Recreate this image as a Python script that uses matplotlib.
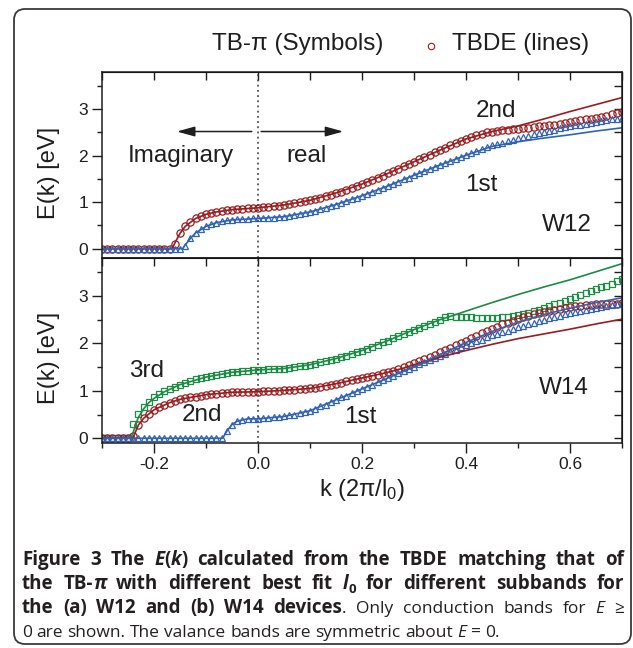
import numpy as np
import matplotlib
matplotlib.use("Agg")
import matplotlib.pyplot as plt
from matplotlib.patches import FancyBboxPatch
from matplotlib.lines import Line2D

plt.rcParams['font.family'] = ['Liberation Sans', 'DejaVu Sans']
plt.rcParams['mathtext.fontset'] = 'custom'
plt.rcParams['mathtext.rm'] = 'Liberation Sans'
plt.rcParams['mathtext.it'] = 'Liberation Sans:italic'

RED = '#991c1f'
BLUE = '#2f63b8'
GREEN = '#1b8c44'
INK = '#1e1e1e'

# ----- data: TB-pi symbols, sampled every 0.01 in k -----
k_sym = np.linspace(-0.3, 0.7, 101)

w12_2nd_sym = [0, 0, 0, 0, 0, 0, 0, 0, 0, 0, 0, 0, 0, 0,
               0.10, 0.33, 0.48, 0.58, 0.65, 0.70, 0.74, 0.77, 0.79, 0.81,
               0.83, 0.84, 0.85, 0.86, 0.87, 0.87, 0.88, 0.89, 0.90, 0.91,
               0.92, 0.94, 0.96, 0.98, 1.00, 1.02, 1.04, 1.07, 1.10, 1.13,
               1.16, 1.20, 1.23, 1.27, 1.31, 1.35, 1.39, 1.43, 1.48, 1.52,
               1.57, 1.62, 1.67, 1.72, 1.77, 1.82, 1.87, 1.92, 1.97, 2.02,
               2.07, 2.12, 2.17, 2.22, 2.27, 2.32, 2.36, 2.40, 2.44, 2.47,
               2.50, 2.52, 2.54, 2.55, 2.56, 2.57, 2.58, 2.59, 2.60, 2.61,
               2.63, 2.64, 2.66, 2.67, 2.69, 2.71, 2.73, 2.75, 2.76, 2.78,
               2.80, 2.82, 2.84, 2.86, 2.89, 2.91, 2.94]

w12_1st_sym = [0, 0, 0, 0, 0, 0, 0, 0, 0, 0, 0, 0, 0, 0, 0, 0,
               0.05, 0.22, 0.34, 0.42, 0.48, 0.53, 0.56, 0.59, 0.61, 0.62,
               0.63, 0.64, 0.64, 0.65, 0.65, 0.66, 0.66, 0.67, 0.68, 0.69,
               0.71, 0.73, 0.75, 0.77, 0.79, 0.82, 0.85, 0.88, 0.91, 0.95,
               0.98, 1.02, 1.06, 1.10, 1.14, 1.18, 1.22, 1.26, 1.31, 1.35,
               1.40, 1.44, 1.49, 1.53, 1.58, 1.62, 1.67, 1.71, 1.76, 1.80,
               1.84, 1.89, 1.93, 1.97, 2.01, 2.05, 2.10, 2.14, 2.18, 2.22,
               2.25, 2.28, 2.31, 2.34, 2.37, 2.40, 2.43, 2.46, 2.49, 2.52,
               2.54, 2.56, 2.59, 2.61, 2.63, 2.65, 2.67, 2.69, 2.71, 2.73,
               2.75, 2.77, 2.79, 2.80, 2.82]

w14_3rd_sym = [0, 0, 0, 0, 0, 0,
               0.30, 0.52, 0.66, 0.77, 0.86, 0.93, 0.99, 1.04, 1.09, 1.13,
               1.17, 1.21, 1.24, 1.27, 1.29, 1.32, 1.34, 1.36, 1.38, 1.39,
               1.40, 1.41, 1.42, 1.43, 1.44, 1.44, 1.45, 1.45, 1.46, 1.47,
               1.48, 1.50, 1.52, 1.53, 1.55, 1.57, 1.60, 1.62, 1.65, 1.68,
               1.71, 1.74, 1.78, 1.81, 1.85, 1.89, 1.93, 1.97, 2.02, 2.06,
               2.11, 2.15, 2.20, 2.24, 2.29, 2.33, 2.37, 2.41, 2.45, 2.50,
               2.55, 2.57, 2.56, 2.56, 2.55, 2.55, 2.54, 2.54, 2.54, 2.54,
               2.54, 2.55, 2.56, 2.58, 2.60, 2.62, 2.65, 2.68, 2.71, 2.74,
               2.78, 2.82, 2.86, 2.90, 2.94, 2.98, 3.02, 3.06, 3.10, 3.14,
               3.18, 3.22, 3.26, 3.31, 3.35]

w14_2nd_sym = [0, 0, 0, 0, 0, 0,
               0.05, 0.28, 0.42, 0.52, 0.60, 0.66, 0.71, 0.75, 0.79, 0.82,
               0.84, 0.86, 0.88, 0.90, 0.92, 0.93, 0.94, 0.95, 0.96, 0.97,
               0.97, 0.98, 0.98, 0.98, 0.98, 0.99, 0.99, 1.00, 1.00, 1.01,
               1.02, 1.02, 1.03, 1.04, 1.05, 1.07, 1.09, 1.11, 1.13, 1.15,
               1.17, 1.20, 1.22, 1.25, 1.27, 1.29, 1.32, 1.34, 1.37, 1.39,
               1.42, 1.46, 1.50, 1.54, 1.58, 1.62, 1.67, 1.71, 1.76, 1.81,
               1.86, 1.91, 1.96, 2.01, 2.06, 2.11, 2.16, 2.21, 2.26, 2.31,
               2.35, 2.40, 2.44, 2.48, 2.52, 2.55, 2.58, 2.61, 2.64, 2.67,
               2.69, 2.71, 2.73, 2.75, 2.76, 2.78, 2.79, 2.80, 2.81, 2.82,
               2.83, 2.83, 2.84, 2.84, 2.85]

w14_1st_sym = [0, 0, 0, 0, 0, 0, 0, 0, 0, 0, 0, 0, 0, 0, 0, 0, 0, 0, 0, 0,
               0, 0, 0, 0,
               0.15, 0.29, 0.36, 0.39, 0.41, 0.41, 0.41, 0.42, 0.43, 0.44,
               0.45, 0.46, 0.48, 0.50, 0.53, 0.55, 0.58, 0.62, 0.67, 0.71,
               0.76, 0.81, 0.86, 0.90, 0.95, 0.99, 1.04, 1.09, 1.13, 1.18,
               1.22, 1.27, 1.32, 1.37, 1.41, 1.46, 1.51, 1.56, 1.60, 1.65,
               1.69, 1.74, 1.78, 1.83, 1.87, 1.92, 1.96, 2.00, 2.04, 2.08,
               2.13, 2.17, 2.20, 2.24, 2.27, 2.31, 2.34, 2.37, 2.41, 2.44,
               2.47, 2.50, 2.53, 2.56, 2.58, 2.61, 2.64, 2.66, 2.68, 2.70,
               2.72, 2.75, 2.76, 2.78, 2.80, 2.82, 2.83]

# ----- data: TBDE lines -----
w12_2nd_k = [-0.30, -0.165, -0.16, -0.15, -0.14, -0.12, -0.10, -0.08, -0.05, 0.0,
             0.05, 0.10, 0.15, 0.20, 0.25, 0.30, 0.35, 0.40, 0.45, 0.50,
             0.55, 0.60, 0.65, 0.70]
w12_2nd_line = [0, 0, 0.12, 0.33, 0.48, 0.65, 0.74, 0.79, 0.84, 0.88,
                0.94, 1.04, 1.20, 1.39, 1.62, 1.87, 2.12, 2.36, 2.52, 2.64,
                2.79, 2.95, 3.10, 3.25]

w12_1st_k = [-0.30, -0.145, -0.14, -0.13, -0.12, -0.10, -0.08, -0.05, 0.0, 0.05,
             0.10, 0.15, 0.20, 0.25, 0.30, 0.35, 0.40, 0.45, 0.50, 0.55,
             0.60, 0.65, 0.70]
w12_1st_line = [0, 0, 0.08, 0.22, 0.34, 0.48, 0.56, 0.62, 0.65, 0.69,
                0.79, 0.95, 1.14, 1.35, 1.58, 1.80, 2.01, 2.20, 2.30, 2.38,
                2.45, 2.53, 2.60]

w14_3rd_k = [-0.30, -0.245, -0.24, -0.235, -0.23, -0.22, -0.21, -0.20, -0.18, -0.15,
             -0.10, -0.05, 0.0, 0.05, 0.10, 0.15, 0.20, 0.25, 0.30, 0.35,
             0.37, 0.40, 0.45, 0.50, 0.55, 0.60, 0.65, 0.70]
w14_3rd_line = [0, 0, 0.12, 0.30, 0.44, 0.62, 0.75, 0.84, 0.98, 1.13,
                1.29, 1.39, 1.44, 1.47, 1.55, 1.68, 1.85, 2.06, 2.29, 2.50,
                2.57, 2.68, 2.86, 3.03, 3.19, 3.34, 3.51, 3.68]

w14_2nd_k = [-0.30, -0.245, -0.24, -0.235, -0.23, -0.22, -0.20, -0.17, -0.15, -0.10,
             -0.05, 0.0, 0.05, 0.10, 0.15, 0.20, 0.25, 0.28, 0.30, 0.35,
             0.40, 0.45, 0.50, 0.55, 0.60, 0.65, 0.70]
w14_2nd_line = [0, 0, 0.02, 0.15, 0.28, 0.42, 0.60, 0.75, 0.82, 0.92,
                0.97, 0.98, 1.01, 1.05, 1.15, 1.27, 1.39, 1.48, 1.55, 1.71,
                1.85, 1.98, 2.10, 2.20, 2.30, 2.41, 2.51]

w14_1st_k = [-0.30, -0.068, -0.06, -0.05, -0.04, -0.02, 0.0, 0.05, 0.10, 0.15,
             0.20, 0.25, 0.30, 0.35, 0.40, 0.45, 0.50, 0.55, 0.60, 0.65,
             0.70]
w14_1st_line = [0, 0, 0.15, 0.29, 0.36, 0.41, 0.41, 0.46, 0.58, 0.81,
                1.04, 1.27, 1.51, 1.76, 2.02, 2.25, 2.45, 2.61, 2.74, 2.86,
                2.96]

x_major = [-0.2, 0.0, 0.2, 0.4, 0.6]
x_labels = ['-0.2', '0.0', '0.2', '0.4', '0.6']
x_minor = [-0.3, -0.1, 0.1, 0.3, 0.5, 0.7]
x_top = [-0.3, -0.2, -0.1, 0.0, 0.1, 0.2, 0.3, 0.4, 0.5, 0.6, 0.7]
y_major = [0, 1, 2, 3]
y_minor = [0.5, 1.5, 2.5, 3.5]
y_right = [0, 0.5, 1, 1.5, 2, 2.5, 3, 3.5]

W, H = 633, 648
fig = plt.figure(figsize=(W / 100, H / 100), dpi=100)

# rounded frame around everything
frame = FancyBboxPatch((0.14, 0.04), 6.17, 6.35,
                       boxstyle='round,pad=0,rounding_size=0.11',
                       transform=fig.dpi_scale_trans, fill=False,
                       edgecolor='#3a3a3a', linewidth=1.3)
fig.add_artist(frame)

ax1 = fig.add_axes([102 / W, 1 - 258 / H, 520 / W, 186 / H])
ax2 = fig.add_axes([102 / W, 1 - 443 / H, 520 / W, 185 / H])


def style_axes(ax, ylim, show_x):
    ax.set_xlim(-0.3, 0.7)
    ax.set_ylim(*ylim)
    ax.set_xticks(x_major)
    ax.set_xticklabels(x_labels)
    ax.set_xticks(x_minor, minor=True)
    ax.set_yticks(y_major)
    ax.set_yticks(y_minor, minor=True)
    for sp in ax.spines.values():
        sp.set_linewidth(1.1)
        sp.set_color(INK)
    ax.tick_params(which='major', direction='out', length=7, width=1.0,
                   labelsize=12.5, colors=INK, pad=3)
    ax.tick_params(which='minor', direction='out', length=3.8, width=1.0,
                   colors=INK)
    if not show_x:
        ax.tick_params(axis='x', which='both', bottom=False, labelbottom=False)
    top = ax.secondary_xaxis('top')
    top.set_xticks(x_top)
    top.tick_params(direction='in', length=6, width=1.0, labeltop=False,
                    colors=INK)
    right = ax.secondary_yaxis('right')
    right.set_yticks(y_right)
    right.tick_params(direction='in', length=6, width=1.0, labelright=False,
                      colors=INK)
    ax.axvline(0, color='#333333', linestyle=(0, (1.2, 2.2)), linewidth=1.1)
    ax.set_ylabel('E(k) [eV]', fontsize=17, color=INK)
    ax.yaxis.set_label_coords(-0.081, 0.46)


sym_kw = dict(linestyle='none', markerfacecolor='none', markeredgewidth=0.9)
line_kw = dict(linewidth=1.2)

# ----- top panel: W12 -----
ax1.plot(k_sym, w12_2nd_sym, marker='o', markersize=5.2, markeredgecolor=RED, **sym_kw)
ax1.plot(k_sym, w12_1st_sym, marker='^', markersize=4.6, markeredgecolor=BLUE, **sym_kw)
ax1.plot(w12_2nd_k, w12_2nd_line, color=RED, **line_kw)
ax1.plot(w12_1st_k, w12_1st_line, color=BLUE, **line_kw)
style_axes(ax1, (-0.2, 3.8), False)

arrow = dict(arrowstyle='-|>,head_length=0.9,head_width=0.25', color=INK,
             lw=1.1, mutation_scale=12, shrinkA=0, shrinkB=0)
ax1.annotate('', xy=(-0.156, 2.52), xytext=(-0.012, 2.52), arrowprops=arrow)
ax1.annotate('', xy=(0.164, 2.52), xytext=(0.006, 2.52), arrowprops=arrow)
ax1.text(-0.148, 2.0, 'Imaginary', fontsize=17.5, ha='center', va='center', color=INK)
ax1.text(0.093, 2.0, 'real', fontsize=17.5, ha='center', va='center', color=INK)
ax1.text(0.458, 2.96, '2nd', fontsize=17.5, ha='center', va='center', color=INK)
ax1.text(0.429, 1.37, '1st', fontsize=17.5, ha='center', va='center', color=INK)
ax1.text(0.593, 0.50, 'W12', fontsize=17.5, ha='center', va='center', color=INK)

# ----- bottom panel: W14 -----
ax2.plot(k_sym, w14_3rd_sym, marker='s', markersize=4.6, markeredgecolor=GREEN, **sym_kw)
ax2.plot(k_sym, w14_2nd_sym, marker='o', markersize=5.2, markeredgecolor=RED, **sym_kw)
ax2.plot(k_sym, w14_1st_sym, marker='^', markersize=4.6, markeredgecolor=BLUE, **sym_kw)
ax2.plot(w14_3rd_k, w14_3rd_line, color=GREEN, **line_kw)
ax2.plot(w14_2nd_k, w14_2nd_line, color=RED, **line_kw)
ax2.plot(w14_1st_k, w14_1st_line, color=BLUE, **line_kw)
style_axes(ax2, (-0.1, 3.8), True)
ax2.set_xlabel(r'k (2π/l$_0$)', fontsize=17, color=INK, labelpad=4)

ax2.text(-0.214, 1.42, '3rd', fontsize=17.5, ha='center', va='center', color=INK)
ax2.text(-0.108, 0.48, '2nd', fontsize=17.5, ha='center', va='center', color=INK)
ax2.text(0.196, 0.44, '1st', fontsize=17.5, ha='center', va='center', color=INK)
ax2.text(0.589, 1.07, 'W14', fontsize=17.5, ha='center', va='center', color=INK)

# ----- legend line at top -----
fig.text(212 / W, 1 - 44 / H, 'TB-π (Symbols)', fontsize=17.5, ha='left',
         va='center', color=INK)
fig.add_artist(Line2D([431 / W], [1 - 46 / H], marker='o', markersize=4.6,
                      markerfacecolor='none', markeredgecolor=RED,
                      markeredgewidth=0.8, transform=fig.transFigure))
fig.text(452 / W, 1 - 44 / H, 'TBDE (lines)', fontsize=17.5, ha='left',
         va='center', color=INK)

# ----- caption: justified lines made of bold / italic runs -----
CAP_FONT = ['Open Sans', 'DejaVu Sans']
BOLD_SIZE = 13.5
REG_SIZE = 12.5
CAP_LEFT, CAP_RIGHT = 22, 624
renderer = fig.canvas.get_renderer()


def text_width(s, **kw):
    t = fig.text(0, 0, s, **kw)
    w = t.get_window_extent(renderer).width
    t.remove()
    return w


def piece_kw(piece):
    weight, style = piece[1], piece[2]
    size = piece[3] if len(piece) > 3 else (BOLD_SIZE if weight == 'bold' else REG_SIZE)
    return dict(fontsize=size, fontweight=weight, fontstyle=style, family=CAP_FONT)


def caption_line(runs, y_px, justify=True):
    # split the runs into words; a run that does not start with a space
    # continues the previous word
    words = [[]]
    for run in runs:
        parts = run[0].split(' ')
        for i, p in enumerate(parts):
            if i > 0:
                words.append([])
            if p:
                words[-1].append((p,) + tuple(run[1:]))
    words = [w for w in words if w]

    widths = [[text_width(p[0], **piece_kw(p)) for p in w] for w in words]
    total = sum(sum(w) for w in widths)
    if justify:
        gap = (CAP_RIGHT - CAP_LEFT - total) / (len(words) - 1)
    else:
        f = dict(fontsize=REG_SIZE, family=CAP_FONT)
        gap = text_width('n n', **f) - text_width('nn', **f)
    x = CAP_LEFT
    for w, ws in zip(words, widths):
        for p, pw in zip(w, ws):
            dy = p[4] if len(p) > 4 else 0
            fig.text(x / W, 1 - (y_px + dy) / H, p[0], ha='left',
                     va='baseline', color='#231f20', **piece_kw(p))
            x += pw
        x += gap


caption_line([('Figure 3 The', 'bold', 'normal'), (' E', 'bold', 'italic'),
              ('(', 'bold', 'normal'), ('k', 'bold', 'italic'),
              (') calculated from the TBDE matching that of', 'bold', 'normal')], 565)
caption_line([('the TB-', 'bold', 'normal'), ('π', 'bold', 'italic'),
              (' with different best fit', 'bold', 'normal'), (' l', 'bold', 'italic'),
              ('0', 'bold', 'normal', 9.5, 4),
              (' for different subbands for', 'bold', 'normal')], 589)
caption_line([('the (a) W12 and (b) W14 devices', 'bold', 'normal'),
              ('. Only conduction bands for', 'normal', 'normal'),
              (' E', 'normal', 'italic'), (' ≥', 'normal', 'normal')], 613)
caption_line([('0 are shown. The valance bands are symmetric about', 'normal', 'normal'),
              (' E', 'normal', 'italic'), (' = 0.', 'normal', 'normal')], 637,
             justify=False)

fig.savefig('out.png', dpi=100)
